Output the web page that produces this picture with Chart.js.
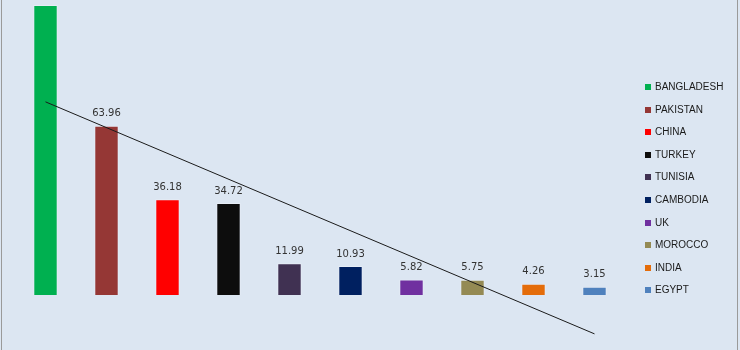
<!DOCTYPE html>
<html>
<head>
<meta charset="utf-8">
<script src="https://cdn.jsdelivr.net/npm/chart.js@4/dist/chart.umd.min.js"></script>
<style>
  html, body { margin: 0; padding: 0; background: #dce6f2; }
  #wrap { position: relative; width: 740px; height: 350px; background: #dce6f2; }
  #frame {
    position: absolute; top: 0; bottom: 0; left: 1px; right: 2px;
    border-left: 1px solid #9a9a9a; border-right: 1px solid #9a9a9a;
    pointer-events: none;
  }
  #legend {
    position: absolute; left: 645px; top: 81px; margin: 0; padding: 0;
    list-style: none; font: 10px "Liberation Sans", Arial, sans-serif; color: #1a1a1a;
  }
  #legend li { height: 22.6px; line-height: 12px; display: flex; align-items: flex-start; }
  #legend span.box { width: 6px; height: 6px; margin: 3px 4px 0 0; }
</style>
</head>
<body>
<div id="wrap">
  <canvas id="chart"></canvas>
  <ul id="legend"></ul>
  <div id="frame"></div>
</div>
<script>
const COUNTRIES = ['BANGLADESH', 'PAKISTAN', 'CHINA', 'TURKEY', 'TUNISIA', 'CAMBODIA', 'UK', 'MOROCCO', 'INDIA', 'EGYPT'];
const VALUES = [109.6, 63.96, 36.18, 34.72, 11.99, 10.93, 5.82, 5.75, 4.26, 3.15];
const COLORS = ['#00b050', '#953735', '#ff0000', '#0d0d0d', '#403152', '#002060', '#7030a0', '#948a54', '#e46c0a', '#4f81bd'];
// trend line: only first and last points
const TREND = [73.0, null, null, null, null, null, null, null, null, -14.7];

// legend (one entry per category)
const legend = document.getElementById('legend');
COUNTRIES.forEach((name, i) => {
  const li = document.createElement('li');
  const box = document.createElement('span');
  box.className = 'box';
  box.style.background = COLORS[i];
  li.appendChild(box);
  li.appendChild(document.createTextNode(name));
  legend.appendChild(li);
});

// value labels above bars
const valueLabels = {
  id: 'valueLabels',
  afterDatasetsDraw(chart) {
    const { ctx } = chart;
    const meta = chart.getDatasetMeta(0);
    ctx.save();
    ctx.font = '10px "DejaVu Sans", sans-serif';
    ctx.fillStyle = '#333333';
    ctx.textAlign = 'center';
    ctx.textBaseline = 'middle';
    meta.data.forEach((bar, i) => {
      ctx.fillText(VALUES[i].toFixed(2), bar.x, bar.y - 12);
    });
    ctx.restore();
  },
};

new Chart(document.getElementById('chart'), {
  data: {
    labels: COUNTRIES,
    datasets: [
      {
        type: 'bar',
        data: VALUES,
        backgroundColor: COLORS,
        borderColor: 'rgba(255,255,255,0.3)',
        borderWidth: 1,
        barPercentage: 0.4,
        categoryPercentage: 1,
        order: 1,
      },
      {
        type: 'line',
        data: TREND,
        borderColor: '#1a1a1a',
        borderWidth: 1,
        pointRadius: 0,
        spanGaps: true,
        order: 0,
      },
    ],
  },
  options: {
    responsive: true,
    maintainAspectRatio: false,
    animation: false,
    layout: { padding: { left: 15, right: 115, top: 0, bottom: 0 } },
    plugins: { legend: { display: false }, tooltip: { enabled: false } },
    scales: {
      x: { display: false },
      y: { display: false, min: -20.8, max: 111.5 },
    },
  },
  plugins: [valueLabels],
});
</script>
</body>
</html>
